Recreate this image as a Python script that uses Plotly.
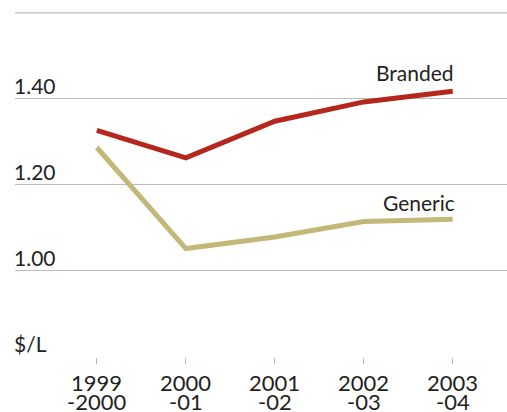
import plotly.graph_objects as go

categories = ["1999-2000", "2000-01", "2001-02", "2002-03", "2003-04"]
tick_line1 = ["1999", "2000", "2001", "2002", "2003"]
tick_line2 = ["-2000", "-01", "-02", "-03", "-04"]
branded = [1.327, 1.263, 1.348, 1.393, 1.418]
generic = [1.287, 1.052, 1.079, 1.115, 1.120]
y_ticks = [0.8, 1.0, 1.2, 1.4, 1.6]
y_tick_text = ["$/L", "1.00", "1.20", "1.40", ""]

FONT = "Lato, 'Open Sans', sans-serif"
TXT = "#231f20"
GRID = "#bdbdbd"
x = list(range(len(categories)))

fig = go.Figure()
fig.add_trace(go.Scatter(x=x, y=branded, mode="lines", name="Branded",
                         line=dict(color="#b5271d", width=5), showlegend=False))
fig.add_trace(go.Scatter(x=x, y=generic, mode="lines", name="Generic",
                         line=dict(color="#c2b877", width=5), showlegend=False))

annotations = []
for v, t in zip(y_ticks, y_tick_text):
    if t:
        annotations.append(dict(x=0, xref="paper", y=v, yref="y", text=t, showarrow=False,
                                xanchor="left", yanchor="bottom", xshift=-3, yshift=-1,
                                font=dict(family=FONT, size=21, color=TXT)))
for i, (a, b) in enumerate(zip(tick_line1, tick_line2)):
    annotations.append(dict(x=i, xref="x", y=0, yref="paper", text=a, showarrow=False,
                            xanchor="center", yanchor="top", yshift=-14, height=18,
                            font=dict(family=FONT, size=22, color=TXT)))
    annotations.append(dict(x=i, xref="x", y=0, yref="paper", text=b, showarrow=False,
                            xanchor="center", yanchor="top", yshift=-33, height=18,
                            font=dict(family=FONT, size=22, color=TXT)))
annotations.append(dict(x=x[-1], xref="x", y=branded[-1], yref="y", text="Branded", showarrow=False,
                        xanchor="right", yanchor="bottom", xshift=3, yshift=4,
                        font=dict(family=FONT, size=21, color=TXT)))
annotations.append(dict(x=x[-1], xref="x", y=generic[-1], yref="y", text="Generic", showarrow=False,
                        xanchor="right", yanchor="bottom", xshift=4, yshift=2,
                        font=dict(family=FONT, size=21, color=TXT)))

# top gridline (edge gridline is not drawn by the axis itself)
shapes = [dict(type="line", xref="paper", x0=0, x1=1, yref="y", y0=y_ticks[-1], y1=y_ticks[-1],
               line=dict(color=GRID, width=1.2), layer="below")]

fig.update_layout(
    width=507, height=412,
    margin=dict(l=15, r=0, t=12, b=55),
    paper_bgcolor="white", plot_bgcolor="white",
    annotations=annotations, shapes=shapes,
    xaxis=dict(range=[-0.92, 4.61], tickvals=x, ticktext=["" for _ in x],
               showgrid=False, zeroline=False, showline=False,
               ticks="outside", ticklen=6, tickcolor="#b8b8b8", tickwidth=1),
    yaxis=dict(range=[0.8, 1.602], tickvals=y_ticks, showticklabels=False,
               showgrid=True, gridcolor=GRID, gridwidth=1.2,
               zeroline=False, showline=False),
)
fig.write_html("out.html", config={"displayModeBar": False},
               post_script="document.body.style.margin='0';document.body.style.overflow='hidden';")
